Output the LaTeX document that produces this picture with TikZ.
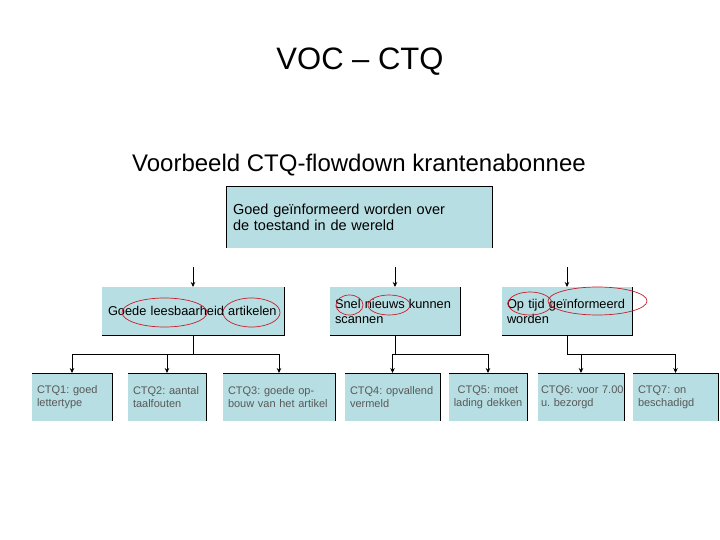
\documentclass[tikz,border=0pt]{standalone}
\usepackage{fontspec}
\setmainfont{Liberation Sans}
\usetikzlibrary{arrows.meta}
\definecolor{boxfill}{RGB}{183,222,226}
\definecolor{ringred}{RGB}{200,30,45}
\frenchspacing
\hyphenpenalty=10000
\exhyphenpenalty=10000

\begin{document}
\begin{tikzpicture}[x=1pt,y=-1pt,>={Stealth[length=5pt,width=4.5pt]},
  box/.style={fill=boxfill,anchor=north west,outer sep=0pt,inner ysep=0pt,align=left},
  topbox/.style={box,inner xsep=7pt,minimum height=62pt,font=\fontsize{14.5}{16}\selectfont},
  midbox/.style={box,inner xsep=6pt,minimum height=48pt,font=\fontsize{12.8}{15}\selectfont},
  ctqbox/.style={box,inner xsep=5pt,minimum height=48pt,text=black!65,font=\fontsize{11}{13}\selectfont},
  edge/.style={black,line width=0.8pt},
  link/.style={black,line width=0.7pt},
  ring/.style={ringred,line width=0.7pt}]
  \useasboundingbox (0,0) rectangle (720,540);

  % titles
  \node[font=\fontsize{31}{36}\selectfont] (title) at (360,62) {VOC – CTQ};
  \node[font=\fontsize{24}{28}\selectfont] (subtitle) at (359,165) {Voorbeeld CTQ-flowdown krantenabonnee};

  % boxes
  \node[topbox,text width=252pt] (top) at (226,186) {Goed geïnformeerd worden over\\de toestand in de wereld};
  \node[midbox,text width=170pt] (m1) at (102,287) {Goede leesbaarheid artikelen};
  \node[midbox,inner xsep=5pt,text width=120pt] (m2) at (330,287) {Snel nieuws kunnen\\scannen};
  \node[midbox,inner xsep=5pt,text width=120pt] (m3) at (502,287) {Op~tijd~geïnformeerd\\worden};
  \node[ctqbox,text width=70pt] (c1) at (32,373) {CTQ1: goed\\lettertype};
  \node[ctqbox,text width=68pt] (c2) at (128,373) {CTQ2: aantal\\taalfouten};
  \node[ctqbox,text width=102pt] (c3) at (223,373) {CTQ3: goede op-\\bouw van het artikel};
  \node[ctqbox,text width=85pt] (c4) at (345,373) {CTQ4: opvallend\\vermeld};
  \node[ctqbox,inner xsep=2pt,text width=74pt,align=center] (c5) at (449,373) {CTQ5: moet\\lading~dekken};
  \node[ctqbox,inner xsep=3pt,text width=80pt] (c6) at (538,373) {CTQ6:~voor~7.00\\u. bezorgd};
  \node[ctqbox,text width=75pt] (c7) at (633,373) {CTQ7: on\\beschadigd};

  % box edges
  \draw[edge] (top.south west) -- (top.north west) -- (top.north east) -- (top.south east);
  \foreach \n in {m1,m2,m3}
    \draw[edge] (\n.north east) -- (\n.south east) -- (\n.south west);
  \foreach \n in {c1,c2,c3,c4,c5,c6,c7}
    \draw[edge] (\n.north west) -- (\n.north east) -- (\n.south east);

  % arrows into the second row
  \foreach \n in {m1,m2,m3} {
    \coordinate (s\n) at ([yshift=20pt]\n.north);
    \draw[link,->] (s\n) -- (\n.north);
  }

  % flowdown to the CTQs
  \foreach \n in {m1,m2,m3}
    \draw[link] (\n.south) -- ++(0,19) coordinate (j\n);
  \draw[link] (c1.north |- jm1) -- (c3.north |- jm1);
  \draw[link] (c4.north |- jm2) -- (c5.north |- jm2);
  \draw[link] (jm3) -- (c7.north |- jm3);
  \foreach \c/\j in {c1/jm1,c2/jm1,c3/jm1,c4/jm2,c5/jm2,c6/jm3,c7/jm3}
    \draw[link,->] (\c.north |- \j) -- (\c.north);

  % red rings
  \draw[ring] (164.5,312.5) ellipse (42.5pt and 14.5pt);
  \draw[ring] (251.5,312.5) ellipse (28.5pt and 14.5pt);
  \draw[ring] (349.5,305) ellipse (13.5pt and 10pt);
  \draw[ring] (389,305) ellipse (21pt and 10pt);
  \draw[ring] (530,303.5) ellipse (22pt and 11.5pt);
  \draw[ring] (597.5,301) ellipse (49.5pt and 14pt);
\end{tikzpicture}
\end{document}
